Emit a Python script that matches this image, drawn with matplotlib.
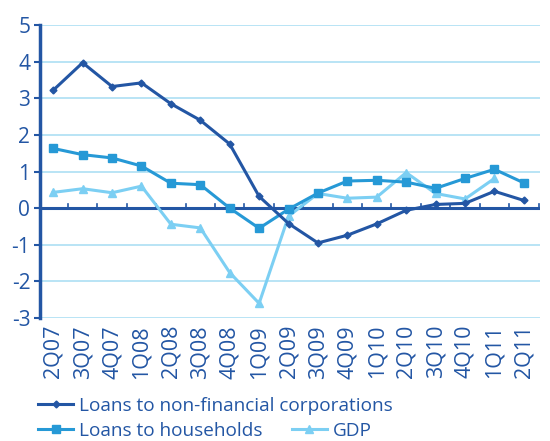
import matplotlib
matplotlib.use("Agg")
import matplotlib.pyplot as plt
from matplotlib.lines import Line2D

plt.rcParams['font.family'] = ['Open Sans', 'DejaVu Sans']

quarters = ["2Q07", "3Q07", "4Q07", "1Q08", "2Q08", "3Q08", "4Q08", "1Q09", "2Q09",
            "3Q09", "4Q09", "1Q10", "2Q10", "3Q10", "4Q10", "1Q11", "2Q11"]
loans_nfc = [3.22, 3.97, 3.32, 3.42, 2.85, 2.40, 1.75, 0.32, -0.42,
             -0.95, -0.74, -0.43, -0.06, 0.10, 0.13, 0.46, 0.21]
loans_hh = [1.63, 1.46, 1.37, 1.15, 0.68, 0.64, 0.00, -0.55, -0.03,
            0.41, 0.74, 0.76, 0.71, 0.54, 0.81, 1.06, 0.69]
gdp = [0.43, 0.53, 0.42, 0.60, -0.44, -0.54, -1.76, -2.60, -0.22,
       0.40, 0.27, 0.30, 0.97, 0.40, 0.25, 0.81]
yticks = [-3, -2, -1, 0, 1, 2, 3, 4, 5]

c_nfc = "#2356a4"
c_hh = "#2699d6"
c_gdp = "#7ccff3"
c_axis = "#2356a4"
c_grid = "#b3e2f4"

fig = plt.figure(figsize=(5.5, 4.41), dpi=100)
ax = fig.add_axes([40/550, 1-318/441, 500/550, 293/441])

x = list(range(len(quarters)))
for v in yticks:
    if v != 0:
        ax.axhline(v, color=c_grid, lw=1.3, zorder=0)
ax.axhline(0, color=c_axis, lw=2.2, zorder=1)
for i in range(len(quarters)):
    ax.plot([i + 0.5, i + 0.5], [0, 0.11], color=c_axis, lw=1.2, zorder=1)

ax.plot(x[:len(gdp)], gdp, color=c_gdp, lw=2.2, marker='^', ms=6, zorder=3)
ax.plot(x, loans_hh, color=c_hh, lw=2.2, marker='s', ms=6, zorder=4)
ax.plot(x, loans_nfc, color=c_nfc, lw=2.2, marker='D', ms=3.5, zorder=5)

ax.set_xlim(-0.45, 16.55)
ax.set_ylim(-3, 5)
ax.set_yticks(yticks)
ax.set_yticklabels([str(v) for v in yticks])
ax.set_xticks(x)
ax.set_xticklabels(quarters, rotation=90)
ax.tick_params(axis='x', length=0, pad=5, labelsize=15.5, labelcolor=c_axis)
ax.tick_params(axis='y', length=4, width=1.5, color=c_axis, pad=3, labelsize=15, labelcolor=c_axis)
for s in ['top', 'right', 'bottom']:
    ax.spines[s].set_visible(False)
ax.spines['left'].set_color(c_axis)
ax.spines['left'].set_linewidth(2.5)

h_nfc = Line2D([], [], color=c_nfc, lw=2.2, marker='D', ms=3.5)
h_hh = Line2D([], [], color=c_hh, lw=2.2, marker='s', ms=6)
h_gdp = Line2D([], [], color=c_gdp, lw=2.2, marker='^', ms=6)
leg_kw = dict(frameon=False, fontsize=13.7, labelcolor=c_axis, handlelength=1.85,
              handletextpad=0.33, borderpad=0, borderaxespad=0, loc='center left')
fig.legend([h_nfc], ["Loans to non-financial corporations"],
           bbox_to_anchor=(38/550, 1-406/441), **leg_kw)
fig.legend([h_hh, h_gdp], ["Loans to households", "GDP"], ncol=2, columnspacing=1.5,
           bbox_to_anchor=(38/550, 1-431/441), **leg_kw)

fig.savefig("out.png", dpi=100)
